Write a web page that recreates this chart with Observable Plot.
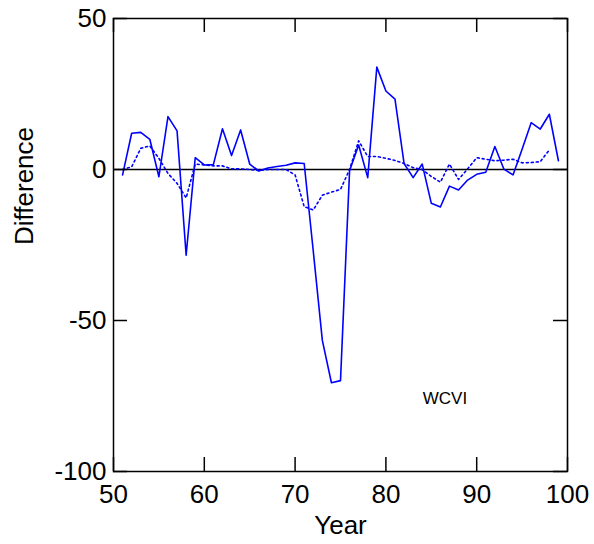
<!DOCTYPE html>
<html>
<head>
<meta charset="utf-8">
<script src="https://cdn.jsdelivr.net/npm/d3@7"></script>
<script src="https://cdn.jsdelivr.net/npm/@observablehq/plot@0.6"></script>
<style>
  html, body { margin: 0; padding: 0; background: #fff; }
  svg { display: block; }
</style>
</head>
<body>
<div id="chart"></div>
<script>
const solidYears = [51,52,53,54,55,56,57,58,59,60,61,62,63,64,65,66,67,68,69,70,71,72,73,74,75,76,77,78,79,80,81,82,83,84,85,86,87,88,89,90,91,92,93,94,95,96,97,98,99];
const solidValues = [-1.8,12.0,12.3,10.0,-2.4,17.5,12.8,-28.4,3.9,1.5,1.6,13.5,4.6,13.1,1.8,-0.5,0.5,1.0,1.4,2.2,2.0,-27,-56.6,-70.6,-69.9,-0.4,8.1,-2.7,33.9,26.0,23.3,2.0,-2.7,1.8,-11.2,-12.4,-5.5,-6.8,-3.5,-1.6,-0.9,7.6,0.1,-1.8,6.7,15.5,13.4,18.3,2.9];
const dottedYears = [51,52,53,54,55,56,57,58,59,60,61,62,63,64,65,66,67,68,69,70,71,72,73,74,75,76,77,78,79,80,81,82,83,84,85,86,87,88,89,90,91,92,93,94,95,96,97,98];
const dottedValues = [0,0.9,7.0,7.8,3.7,-1.3,-4.6,-9.4,1.8,1.5,1.2,1.2,0.2,0.2,0.0,-0.3,0,0,0,-1.8,-12.3,-13.4,-8.5,-7.5,-6.6,0,9.5,4.3,4.3,3.7,3.0,2.0,0.6,0.0,-2.3,-4.2,1.8,-3.3,0.2,3.9,3.4,2.9,3.1,3.4,2.2,2.3,2.6,6.5];
const xTicks = [50,60,70,80,90,100];
const yTicks = [50,0,-50,-100];
const panelLabel = [{text: "WCVI", x: 86.5, y: -75.9}];

const solid = solidYears.map((x, i) => ({x, y: solidValues[i]}));
const dotted = dottedYears.map((x, i) => ({x, y: dottedValues[i]}));

const font = "Liberation Sans, Arial, Helvetica, sans-serif";
const blue = "#0000ff";

const chart = Plot.plot({
  width: 594,
  height: 544,
  marginLeft: 113,
  marginRight: 27,
  marginTop: 18,
  marginBottom: 73,
  style: {fontFamily: font, background: "#fff"},
  x: {domain: [50, 100]},
  y: {domain: [-100, 50]},
  marks: [
    Plot.ruleY([0], {stroke: "#000", strokeWidth: 1.5}),
    Plot.line(dotted, {x: "x", y: "y", stroke: blue, strokeWidth: 1.6, strokeDasharray: "2,3"}),
    Plot.line(solid, {x: "x", y: "y", stroke: blue, strokeWidth: 1.6}),
    Plot.tickX(xTicks, {x: d => d, stroke: "#000", strokeWidth: 1.5, insetBottom: 439}),
    Plot.tickX(xTicks, {x: d => d, stroke: "#000", strokeWidth: 1.5, insetTop: 439}),
    Plot.tickY(yTicks, {y: d => d, stroke: "#000", strokeWidth: 1.5, insetRight: 440}),
    Plot.tickY(yTicks, {y: d => d, stroke: "#000", strokeWidth: 1.5, insetLeft: 440}),
    Plot.frame({stroke: "#000", strokeWidth: 1.5}),
    Plot.axisX(xTicks, {tickSize: 0, tickPadding: 13, fontSize: 26, label: null, fill: "#000", tickFormat: d => `${d}`}),
    Plot.axisY(yTicks, {tickSize: 0, tickPadding: 7, fontSize: 26, label: null, fill: "#000", tickFormat: d => `${d}`}),
    Plot.text(["Year"], {frameAnchor: "bottom", dy: 62, fontSize: 26, fill: "#000"}),
    Plot.text(["Difference"], {frameAnchor: "left", dx: -89, rotate: -90, fontSize: 26, fill: "#000"}),
    Plot.text(panelLabel, {x: "x", y: "y", text: "text", fontSize: 17, fill: "#000"})
  ]
});
document.getElementById("chart").appendChild(chart);
</script>
</body>
</html>
